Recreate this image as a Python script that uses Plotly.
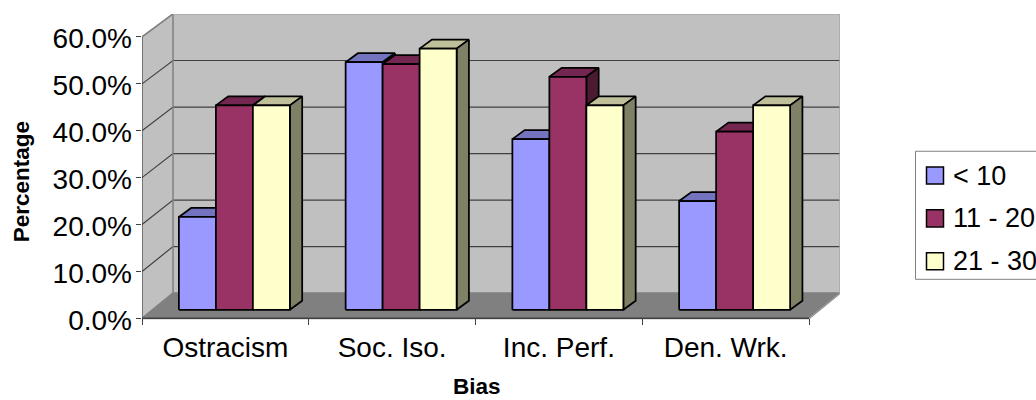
import plotly.graph_objects as go

# Survey results by bias type and years-of-experience band
categories = ["Ostracism", "Soc. Iso.", "Inc. Perf.", "Den. Wrk."]
series_names = ["< 10", "11 - 20", "21 - 30"]
under_10 = [19.8, 52.8, 36.4, 23.2]
from_11_to_20 = [43.6, 52.4, 49.7, 38.0]
from_21_to_30 = [43.6, 55.7, 43.6, 43.6]
y_ticks = [0, 10, 20, 30, 40, 50, 60]
y_tick_labels = ["0.0%", "10.0%", "20.0%", "30.0%", "40.0%", "50.0%", "60.0%"]

FONT = "Liberation Sans, Arial, sans-serif"
FACE_COLORS = ["#9999FF", "#993366", "#FFFFCC"]
TOP_COLORS = ["#7373BF", "#732650", "#BFBF99"]
SIDE_COLORS = ["#4D4D80", "#4D1A33", "#808066"]

# Plot area in page pixels; the front plane of the box is the axis scale
WIDTH, HEIGHT = 1036, 400
LEFT, RIGHT, TOP, BOTTOM = 142.0, 840.0, 14.3, 318.5
PX_PER_CATEGORY = 166.75
PX_PER_PERCENT = 4.687
Y_PAD = 1.0  # headroom below zero so the lowest tick label stays in range
PLOT_BOTTOM = BOTTOM + Y_PAD * PX_PER_PERCENT

# Oblique projection, in axis units
WALL_DX = (RIGHT - LEFT - 4 * PX_PER_CATEGORY) / PX_PER_CATEGORY
BAR_OFFSET_X = 9.0 / PX_PER_CATEGORY
BAR_OFFSET_Y = 8.5 / PX_PER_PERCENT
BAR_DEPTH_X = 12.3 / PX_PER_CATEGORY
BAR_DEPTH_Y = 9.0 / PX_PER_PERCENT
BAR_WIDTH = 37.0 / PX_PER_CATEGORY
GROUP_GAP = (1 - 3 * BAR_WIDTH) / 2
Y_TOP = (BOTTOM - TOP) / PX_PER_PERCENT
LABEL_SHIFT = 0.34  # recentres tick label digits on their tick marks


def wall_y(value):
    """Height of a value on the back wall, which sits slightly compressed."""
    return 5.37 + value * (Y_TOP - 5.37) / 60


def polygon(xs, ys, fill, line_color=None, line_width=1.75):
    return go.Scatter(
        x=xs + xs[:1], y=ys + ys[:1], mode="lines", fill="toself",
        fillcolor=fill, line=dict(color=line_color or fill, width=line_width),
        hoverinfo="skip", cliponaxis=False, showlegend=False,
    )


def polyline(xs, ys, color, width=1.2):
    return go.Scatter(
        x=xs, y=ys, mode="lines", line=dict(color=color, width=width),
        hoverinfo="skip", cliponaxis=False, showlegend=False,
    )


fig = go.Figure()

# Walls and floor
x_back = WALL_DX
x_end = 4 + WALL_DX
fig.add_trace(polygon([x_back, x_end, x_end, x_back],
                      [wall_y(0), wall_y(0), wall_y(60), wall_y(60)], "#C0C0C0"))
fig.add_trace(polygon([0, x_back, x_back, 0], [0, wall_y(0), wall_y(60), 60], "#C0C0C0"))
fig.add_trace(polygon([0, 4, x_end, x_back], [0, 0, wall_y(0), wall_y(0)], "#808080"))

# Gridlines run along the left wall and across the back wall
grid_x, grid_y = [], []
for v in y_ticks[1:-1]:
    grid_x += [0, x_back, x_end, None]
    grid_y += [v, wall_y(v), wall_y(v), None]
fig.add_trace(polyline(grid_x, grid_y, "#404040"))

# Box edges
fig.add_trace(polyline([x_back, x_back], [wall_y(0), wall_y(60)], "#808080", 1.5))
fig.add_trace(polyline([0, x_back, x_end, x_end], [60, wall_y(60), wall_y(60), wall_y(0)], "#A6A6A6", 1.5))
fig.add_trace(polyline([0, x_back], [60, wall_y(60)], "#808080", 1.5))
fig.add_trace(polyline([0, 0], [0, 60], "#404040", 1.2))
fig.add_trace(polyline([0, 4], [0, 0], "#404040", 1.5))
fig.add_trace(polyline([4, x_end], [0, wall_y(0)], "#A6A6A6", 1.0))

# Bars: top and side faces first, so the next bar in the group overlaps them
for c in range(len(categories)):
    for s, values in enumerate([under_10, from_11_to_20, from_21_to_30]):
        x0 = c + GROUP_GAP + s * BAR_WIDTH + BAR_OFFSET_X
        x1 = x0 + BAR_WIDTH
        y0 = BAR_OFFSET_Y
        y1 = y0 + values[c]
        dx, dy = BAR_DEPTH_X, BAR_DEPTH_Y
        fig.add_trace(polygon([x0, x1, x1 + dx, x0 + dx], [y1, y1, y1 + dy, y1 + dy],
                              TOP_COLORS[s], "black"))
        fig.add_trace(polygon([x1, x1 + dx, x1 + dx, x1], [y0, y0 + dy, y1 + dy, y1],
                              SIDE_COLORS[s], "black"))
        fig.add_trace(polygon([x0, x1, x1, x0], [y0, y0, y1, y1],
                              FACE_COLORS[s], "black"))

# Empty trace that brings the tick-label axis into the plot
fig.add_trace(go.Scatter(x=[None], y=[None], yaxis="y2", showlegend=False, hoverinfo="skip"))


def paper_x(px):
    return (px - LEFT) / (RIGHT - LEFT)


def paper_y(py):
    return (PLOT_BOTTOM - py) / (PLOT_BOTTOM - TOP)


# Legend box, swatches and labels
shapes = [dict(type="rect", xref="paper", yref="paper",
               x0=paper_x(915.5), x1=paper_x(1060), y0=paper_y(151.5), y1=paper_y(279.5),
               line=dict(color="#808080", width=1), fillcolor="white")]
annotations = []
for i, name in enumerate(series_names):
    center = 175.8 + i * 42.8
    shapes.append(dict(type="rect", xref="paper", yref="paper",
                       x0=paper_x(926.5), x1=paper_x(943.5),
                       y0=paper_y(center - 8.5), y1=paper_y(center + 8.5),
                       line=dict(color="black", width=1.5), fillcolor=FACE_COLORS[i]))
    annotations.append(dict(text=name, xref="paper", yref="paper", x=paper_x(950.5), y=paper_y(center),
                            xanchor="left", yanchor="middle", showarrow=False,
                            font=dict(family=FONT, size=27, color="black")))

# Axis titles
annotations.append(dict(text="<b>Percentage</b>", xref="paper", yref="paper",
                        x=paper_x(21.5), y=paper_y(182), textangle=-90, showarrow=False,
                        xanchor="center", yanchor="middle",
                        font=dict(family=FONT, size=22.5, color="black")))
annotations.append(dict(text="<b>Bias</b>", xref="paper", yref="paper",
                        x=paper_x(477), y=paper_y(387), showarrow=False,
                        xanchor="center", yanchor="middle",
                        font=dict(family=FONT, size=22.5, color="black")))

fig.update_layout(
    width=WIDTH, height=HEIGHT,
    margin=dict(l=LEFT, r=WIDTH - RIGHT, t=TOP, b=HEIGHT - PLOT_BOTTOM, autoexpand=False),
    paper_bgcolor="white", plot_bgcolor="white", showlegend=False,
    shapes=shapes, annotations=annotations,
    xaxis=dict(
        range=[0, x_end], showgrid=False, zeroline=False, showline=False,
        anchor="free", position=(PLOT_BOTTOM - BOTTOM) / (PLOT_BOTTOM - TOP),
        tickvals=[c + 0.5 for c in range(len(categories))], ticktext=categories,
        ticks="", ticklabelstandoff=10,
        tickfont=dict(family=FONT, size=28, color="black"),
        minor=dict(tickvals=list(range(len(categories) + 1)), ticks="outside",
                   ticklen=6, tickwidth=1, tickcolor="#404040", showgrid=False),
    ),
    # Tick marks on the main axis; the labels come from an overlay axis
    yaxis=dict(
        range=[-Y_PAD, Y_TOP], showgrid=False, zeroline=False, showline=False,
        tickvals=y_ticks, showticklabels=False,
        ticks="outside", ticklen=5, tickwidth=1, tickcolor="#404040",
    ),
    yaxis2=dict(
        overlaying="y", side="left",
        range=[-Y_PAD + LABEL_SHIFT, Y_TOP + LABEL_SHIFT], showgrid=False, zeroline=False, showline=False,
        tickvals=y_ticks, ticktext=y_tick_labels, ticks="", ticklabelstandoff=9,
        tickfont=dict(family=FONT, size=28, color="black"),
    ),
)

fig.write_html("out.html")
